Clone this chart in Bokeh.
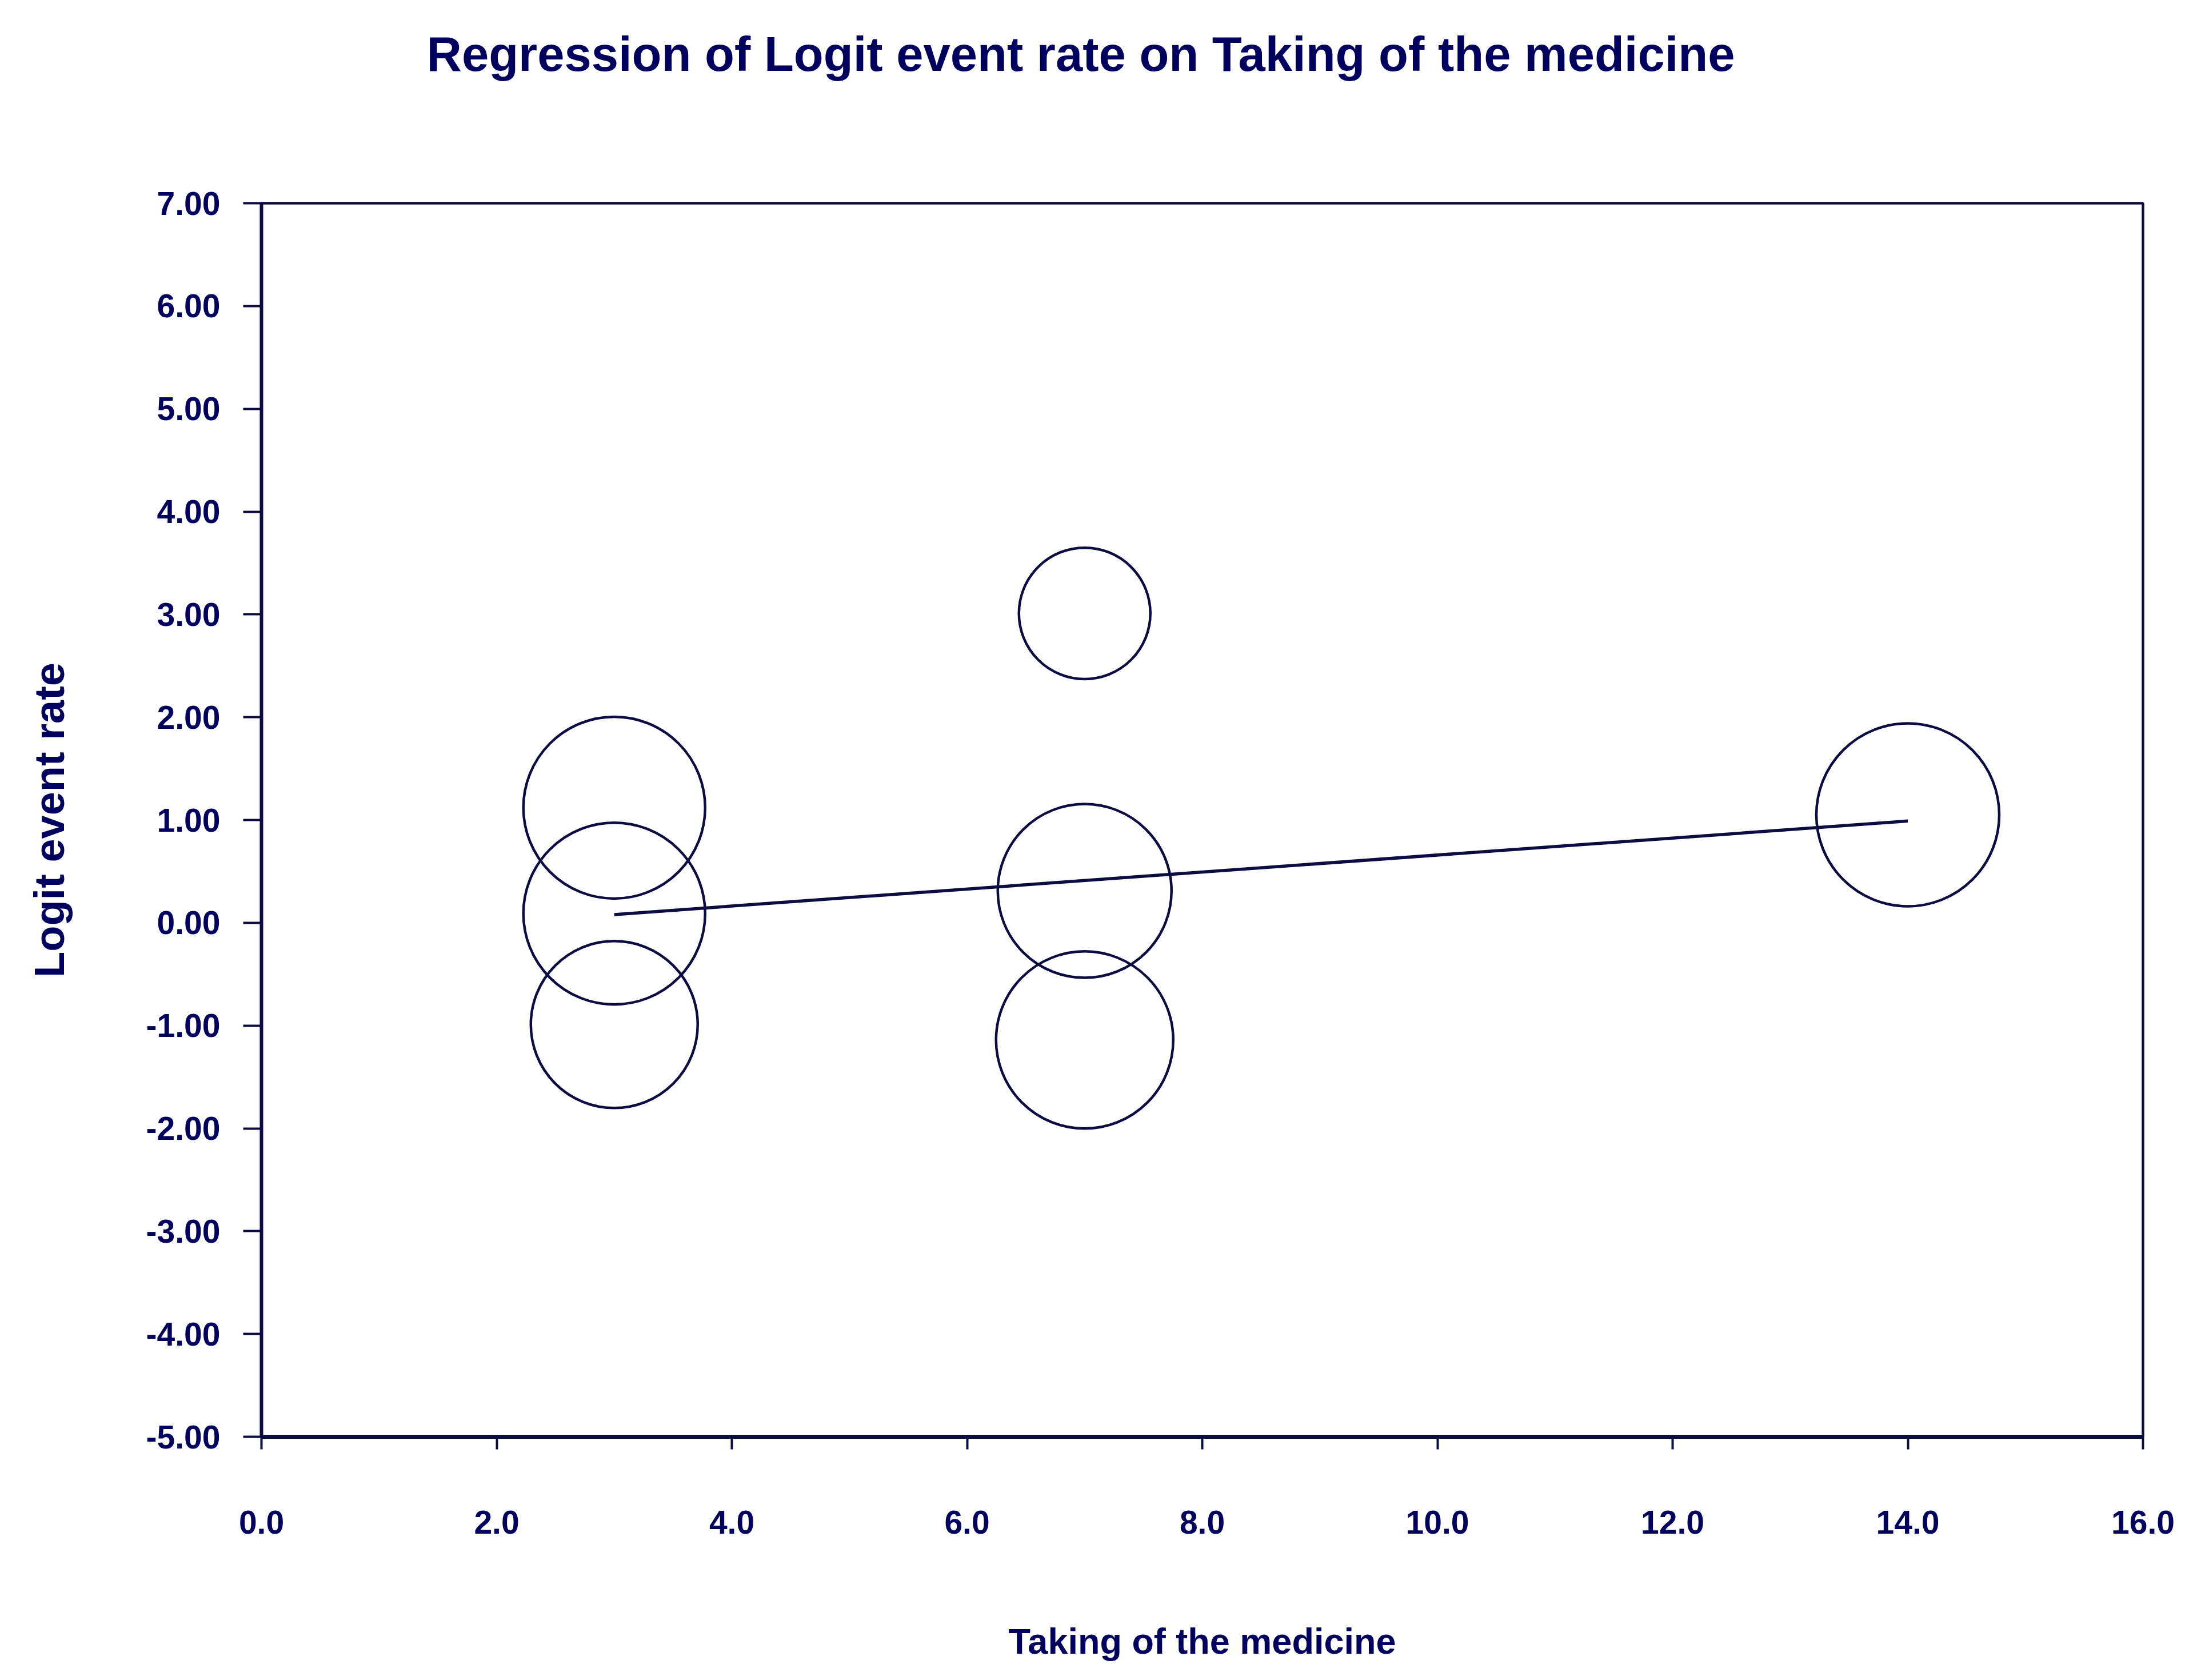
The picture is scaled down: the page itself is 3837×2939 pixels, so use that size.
from bokeh.plotting import figure
from bokeh.models import Range1d, FixedTicker, PrintfTickFormatter, ColumnDataSource, Title
from bokeh.embed import file_html
from bokeh.resources import INLINE

# ---------------- data ----------------
title_text = "Regression of Logit event rate on Taking of the medicine"
x_label = "Taking of the medicine"
y_label = "Logit event rate"

dose = [3, 3, 3, 7, 7, 7, 14]                                # Taking of the medicine
logit_rate = [1.12, 0.09, -0.99, 3.01, 0.31, -1.14, 1.05]    # Logit event rate
weight = [15.9, 15.9, 14.6, 11.5, 15.2, 15.5, 16.0]          # relative study weight

reg_intercept = -0.168
reg_slope = 0.0827
reg_x = [3, 14]

x_ticks = [0, 2, 4, 6, 8, 10, 12, 14, 16]
y_ticks = [-5, -4, -3, -2, -1, 0, 1, 2, 3, 4, 5, 6, 7]

# ---------------- layout ----------------
W, H = 3821, 2923
FL, FT, FR, FB = 457, 355, 3749, 2513
X0, X1, Y0, Y1 = 0, 16, -5, 7

TXT = "#00005e"
LN = "#0c0c42"
FONT = "Liberation Sans"

p = figure(width=W, height=H, output_backend="svg", toolbar_location=None,
           x_range=Range1d(X0, X1), y_range=Range1d(Y0, Y1),
           min_border_left=FL, min_border_right=W - FR,
           min_border_top=FT, min_border_bottom=H - FB)
p.background_fill_color = "white"
p.border_fill_color = "white"
p.grid.visible = False
p.outline_line_color = LN
p.outline_line_width = 4.5

# spacer between title and frame
p.add_layout(Title(text=" ", text_font_size="1px", standoff=168), "above")

# title
p.title.text = title_text
p.title.align = "left"
p.title.offset = 289
p.title.standoff = 85
p.title.text_font = FONT
p.title.text_font_style = "bold"
p.title.text_font_size = "85px"
p.title.text_color = TXT

# axes
for ax in (p.xaxis[0], p.yaxis[0]):
    ax.major_label_text_font = FONT
    ax.major_label_text_font_style = "bold"
    ax.major_label_text_color = TXT
    ax.major_label_text_font_size = "57px"
    ax.axis_label_text_font = FONT
    ax.axis_label_text_font_style = "bold"
    ax.axis_label_text_color = TXT
    ax.axis_line_color = LN
    ax.major_tick_line_color = LN
    ax.major_tick_line_width = 4
    ax.major_tick_in = 0
    ax.minor_tick_line_color = None

p.xaxis.ticker = FixedTicker(ticks=x_ticks)
p.xaxis.formatter = PrintfTickFormatter(format="%.1f")
p.xaxis.axis_line_width = 7
p.xaxis.major_tick_out = 22
p.xaxis.major_label_standoff = 107
p.xaxis.axis_label = x_label
p.xaxis.axis_label_text_font_size = "63px"
p.xaxis.axis_label_standoff = 150

p.yaxis.ticker = FixedTicker(ticks=y_ticks)
p.yaxis.formatter = PrintfTickFormatter(format="%.2f")
p.yaxis.axis_line_width = 6
p.yaxis.major_tick_out = 32
p.yaxis.major_label_standoff = 40
p.yaxis.axis_label = y_label
p.yaxis.axis_label_text_font_size = "74px"
p.yaxis.axis_label_standoff = 125

# bubbles
src = ColumnDataSource(dict(x=dose, y=logit_rate, size=[w * 20 for w in weight]))
p.scatter("x", "y", size="size", source=src, marker="circle",
          fill_color=None, line_color=LN, line_width=4.5)

# regression line
reg_y = [reg_intercept + reg_slope * v for v in reg_x]
p.line(reg_x, reg_y, line_color=LN, line_width=5.5)

open("out.html", "w").write(file_html(p, INLINE))
